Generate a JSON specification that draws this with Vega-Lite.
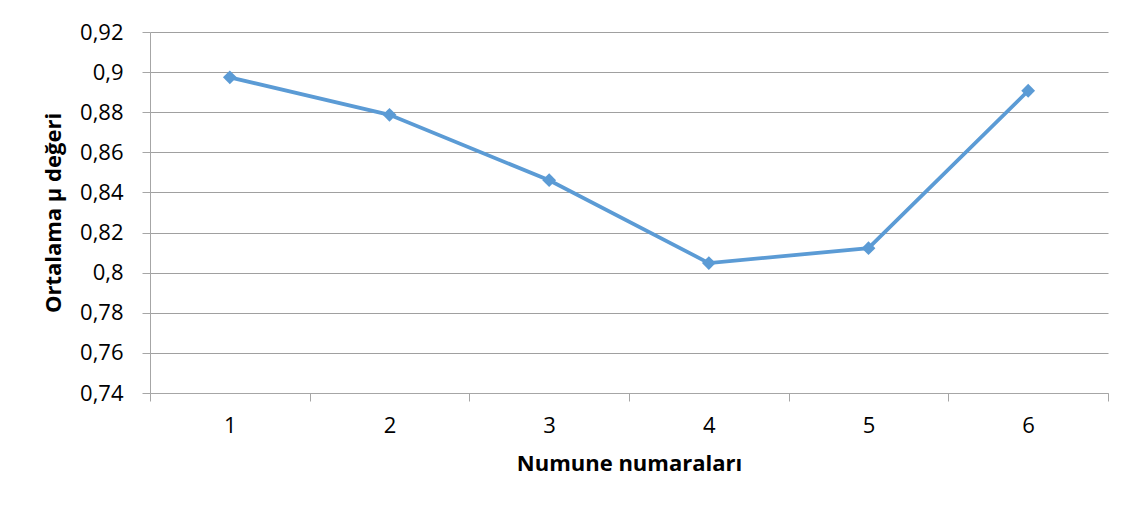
{
  "$schema": "https://vega.github.io/schema/vega-lite/v6.json",
  "autosize": "none",
  "width": 958,
  "height": 361,
  "padding": {"left": 150, "top": 32, "right": 24, "bottom": 122},
  "background": "white",
  "config": {
    "view": {"stroke": null},
    "font": "Open Sans"
  },
  "data": {
    "values": [
      {"numune": "1", "mu": 0.8974},
      {"numune": "2", "mu": 0.8787},
      {"numune": "3", "mu": 0.8461},
      {"numune": "4", "mu": 0.8048},
      {"numune": "5", "mu": 0.8122},
      {"numune": "6", "mu": 0.8907}
    ]
  },
  "encoding": {
    "x": {
      "field": "numune",
      "type": "ordinal",
      "scale": {"type": "band", "paddingInner": 0, "paddingOuter": 0},
      "axis": {
        "title": "Numune numaraları",
        "titleFont": "Open Sans",
        "titleFontSize": 22,
        "titleFontWeight": "bold",
        "titleColor": "black",
        "titlePadding": 17,
        "labelAngle": 0,
        "labelFont": "Open Sans",
        "labelFontSize": 22,
        "labelColor": "black",
        "labelPadding": 14,
        "tickBand": "extent",
        "tickSize": 8,
        "tickColor": "#a6a6a6",
        "domainColor": "#a6a6a6",
        "grid": false
      }
    },
    "y": {
      "field": "mu",
      "type": "quantitative",
      "scale": {"domain": [0.74, 0.92], "nice": false, "zero": false},
      "axis": {
        "title": "Ortalama µ değeri",
        "titleFont": "Open Sans",
        "titleFontSize": 22,
        "titleFontWeight": "bold",
        "titleColor": "black",
        "titlePadding": 14,
        "values": [0.74, 0.76, 0.78, 0.8, 0.82, 0.84, 0.86, 0.88, 0.9, 0.92],
        "format": ".2~f",
        "labelExpr": "replace(datum.label, '.', ',')",
        "labelFont": "Open Sans",
        "labelFontSize": 22,
        "labelColor": "black",
        "labelPadding": 19,
        "tickSize": 8,
        "tickColor": "#a6a6a6",
        "domainColor": "#a6a6a6",
        "grid": true,
        "gridColor": "#a0a0a0",
        "gridWidth": 1
      }
    }
  },
  "layer": [
    {
      "mark": {"type": "line", "color": "#5B9BD5", "strokeWidth": 3.75}
    },
    {
      "mark": {"type": "point", "shape": "diamond", "filled": true, "color": "#5B9BD5", "size": 190, "opacity": 1}
    }
  ]
}
